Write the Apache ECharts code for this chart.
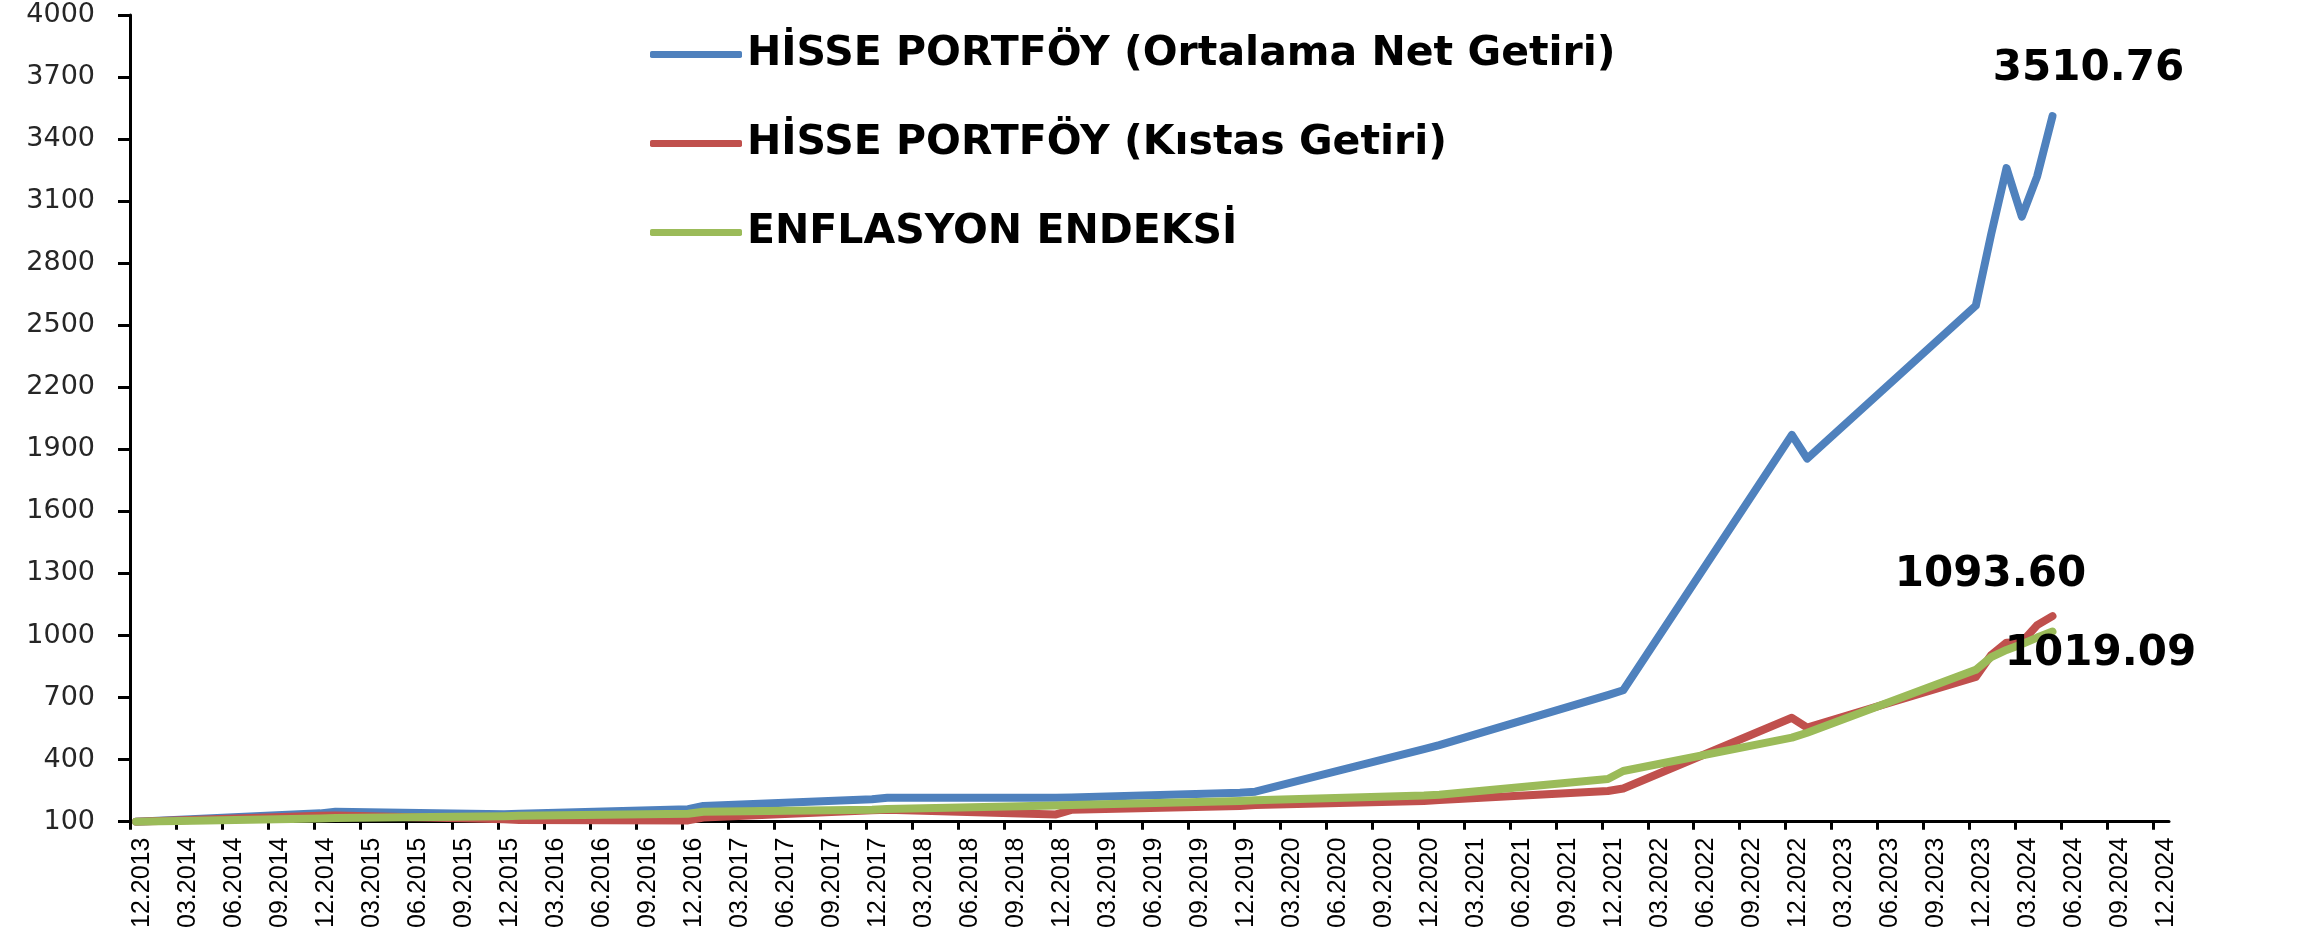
<!DOCTYPE html>
<html>
<head>
<meta charset="utf-8">
<title>Hisse Portföy Getiri</title>
<script src="https://cdn.jsdelivr.net/npm/echarts@6/dist/echarts.min.js"></script>
<style>
    html, body { margin: 0; padding: 0; background: #fff; }
    #chart { width: 2305px; height: 931px; }
</style>
</head>
<body>
<div id="chart"></div>
<script>
// veri noktalari (ay.yil)
const dates = ['12.2013', '12.2014', '01.2015', '12.2015', '01.2016', '12.2016', '01.2017', '12.2017', '01.2018',
    '12.2018', '01.2019', '12.2019', '01.2020', '12.2020', '01.2021', '12.2021', '01.2022', '12.2022', '01.2023',
    '12.2023', '01.2024', '02.2024', '03.2024', '04.2024', '05.2024'];
const ortalamaNet = [100, 140, 148, 136, 138, 160, 176, 208, 215, 215, 217, 240, 245, 450, 470, 712, 735,
    1970, 1855, 2595, 2940, 3260, 3025, 3220, 3510.76];
const kistas = [100, 128, 130, 112, 108, 106, 120, 155, 158, 135, 157, 175, 180, 200, 205, 248, 260,
    602, 555, 800, 905, 965, 968, 1050, 1093.60];
const enflasyon = [100, 115, 117, 126, 128, 138, 148, 158, 161, 178, 180, 200, 203, 226, 230, 306, 345,
    506, 530, 834, 895, 930, 958, 990, 1019.09];
const seriesNames = ['HİSSE PORTFÖY (Ortalama Net Getiri)', 'HİSSE PORTFÖY (Kıstas Getiri)', 'ENFLASYON ENDEKSİ'];
const yTicks = [100, 400, 700, 1000, 1300, 1600, 1900, 2200, 2500, 2800, 3100, 3400, 3700, 4000];

// ceyrek etiketleri 12.2013 ... 12.2024
const quarterLabels = [];
for (let m = 0; m <= 132; m += 3) {
    const month = (11 + m) % 12 + 1;
    const year = 2013 + Math.floor((11 + m) / 12);
    quarterLabels.push(String(month).padStart(2, '0') + '.' + year);
}
const quarterPos = quarterLabels.map((l, i) => i * 3);

// noktalar ayin ortasina dusuyor
const pointShift = 0.4;
function monthIndex(d) {
    const [mm, yyyy] = d.split('.').map(Number);
    return (yyyy - 2013) * 12 + mm - 12;
}

function makeSeries(name, values, color, labelOffset) {
    return {
        name: name,
        type: 'line',
        data: dates.map((d, i) => [monthIndex(d) + pointShift, values[i]]),
        showSymbol: false,
        symbol: 'none',
        lineStyle: {color: color, width: 8, cap: 'round', join: 'round'},
        itemStyle: {color: color},
        emphasis: {disabled: true},
        endLabel: {
            show: true,
            formatter: (p) => p.value[1].toFixed(2),
            distance: 0,
            offset: labelOffset,
            align: 'center',
            verticalAlign: 'middle',
            fontFamily: 'DejaVu Sans',
            fontWeight: 'bold',
            fontSize: 42,
            color: '#000',
        },
    };
}

const chart = echarts.init(document.getElementById('chart'));
chart.setOption({
    animation: false,
    grid: {left: 130, right: 136, top: 15, bottom: 103, containLabel: false},
    legend: {
        orient: 'vertical',
        left: 650,
        top: 34,
        padding: 0,
        itemWidth: 92,
        itemHeight: 7,
        itemGap: 48,
        icon: 'roundRect',
        data: seriesNames,
        textStyle: {fontFamily: 'DejaVu Sans', fontWeight: 'bold', fontSize: 41, lineHeight: 41, color: '#000'},
    },
    xAxis: {
        type: 'value',
        min: 0,
        max: 133,
        axisLine: {show: true, lineStyle: {color: '#000', width: 3}},
        axisTick: {show: true, customValues: quarterPos, length: 8, lineStyle: {color: '#000', width: 3}},
        axisLabel: {
            customValues: quarterPos,
            formatter: (v) => quarterLabels[Math.round(v / 3)],
            rotate: 90,
            margin: 16,
            verticalAlign: 'top',
            fontFamily: 'Liberation Sans',
            fontSize: 25,
            color: '#000',
        },
        splitLine: {show: false},
    },
    yAxis: {
        type: 'value',
        min: 100,
        max: 4000,
        axisLine: {show: true, lineStyle: {color: '#000', width: 3}},
        axisTick: {show: true, customValues: yTicks, length: 12, lineStyle: {color: '#000', width: 3}},
        axisLabel: {
            customValues: yTicks,
            formatter: (v) => String(v),
            margin: 35,
            fontFamily: 'DejaVu Sans',
            fontSize: 27,
            color: '#262626',
        },
        splitLine: {show: false},
    },
    series: [
        makeSeries(seriesNames[0], ortalamaNet, '#4F81BD', [36, -47]),
        makeSeries(seriesNames[1], kistas, '#C0504D', [-62, -41]),
        makeSeries(seriesNames[2], enflasyon, '#9BBB59', [48, 23]),
    ],
});
</script>
</body>
</html>
